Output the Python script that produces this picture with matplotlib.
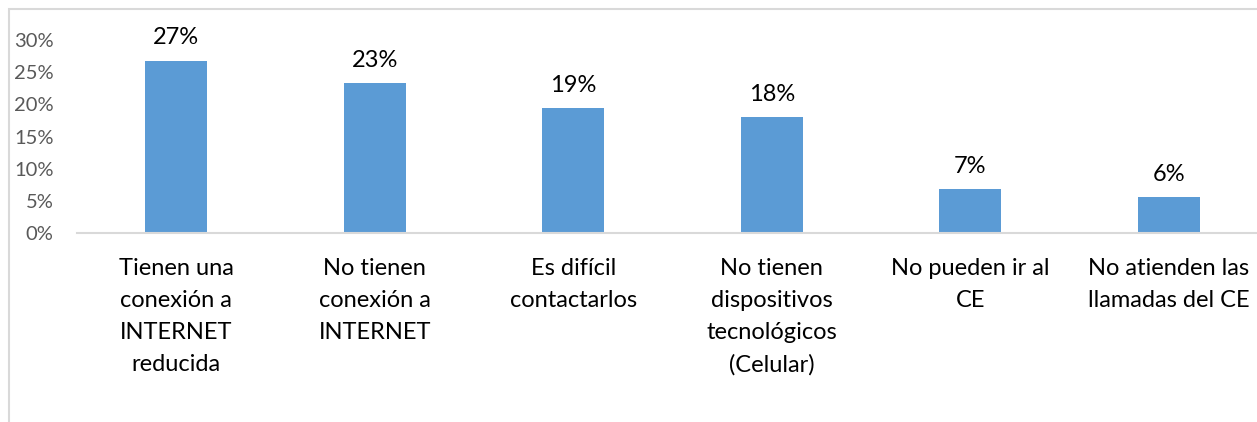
import matplotlib.pyplot as plt
from matplotlib.patches import Rectangle

categorias = ['Tienen una\nconexión a\nINTERNET\nreducida',
              'No tienen\nconexión a\nINTERNET',
              'Es difícil\ncontactarlos',
              'No tienen\ndispositivos\ntecnológicos\n(Celular)',
              'No pueden ir al\nCE',
              'No atienden las\nllamadas del CE']
valores = [26.8, 23.3, 19.4, 18.0, 6.8, 5.6]
etiquetas = ['27%', '23%', '19%', '18%', '7%', '6%']
yticks = [0, 5, 10, 15, 20, 25, 30]

plt.rcParams['font.family'] = ['Lato', 'DejaVu Sans']

W, H = 1257, 422
fig = plt.figure(figsize=(W / 100, H / 100), dpi=100)

# chart border (cut off on the right and bottom like the original)
fig.patches.append(Rectangle((9 / W, -0.2), 2, (H - 9) / H + 0.2,
                             transform=fig.transFigure, fill=False,
                             edgecolor='#D9D9D9', linewidth=1.5))

ax = fig.add_axes([77 / W, (H - 233) / H, 1191 / W, (233 - 40) / H])
x = range(len(valores))
ax.bar(x, valores, width=0.31, color='#5B9BD5')
ax.set_xlim(-0.5, len(valores) - 0.5)
ax.set_ylim(0, 30)

for i, (v, t) in enumerate(zip(valores, etiquetas)):
    ax.text(i, v + 1.9, t, ha='center', va='bottom', fontsize=17,
            color='#000000', clip_on=False)

ax.set_yticks(yticks)
ax.set_yticklabels([f'{v}%' for v in yticks], fontsize=14.5, color='#595959')
ax.set_xticks(list(x))
ax.set_xticklabels(categorias, fontsize=17, color='#000000', linespacing=1.65)
ax.tick_params(axis='both', length=0)
ax.tick_params(axis='x', pad=18)
ax.tick_params(axis='y', pad=17)

for s in ['top', 'right', 'left']:
    ax.spines[s].set_visible(False)
ax.spines['bottom'].set_color('#D9D9D9')
ax.spines['bottom'].set_linewidth(1.5)

fig.savefig('out.png', dpi=100)
